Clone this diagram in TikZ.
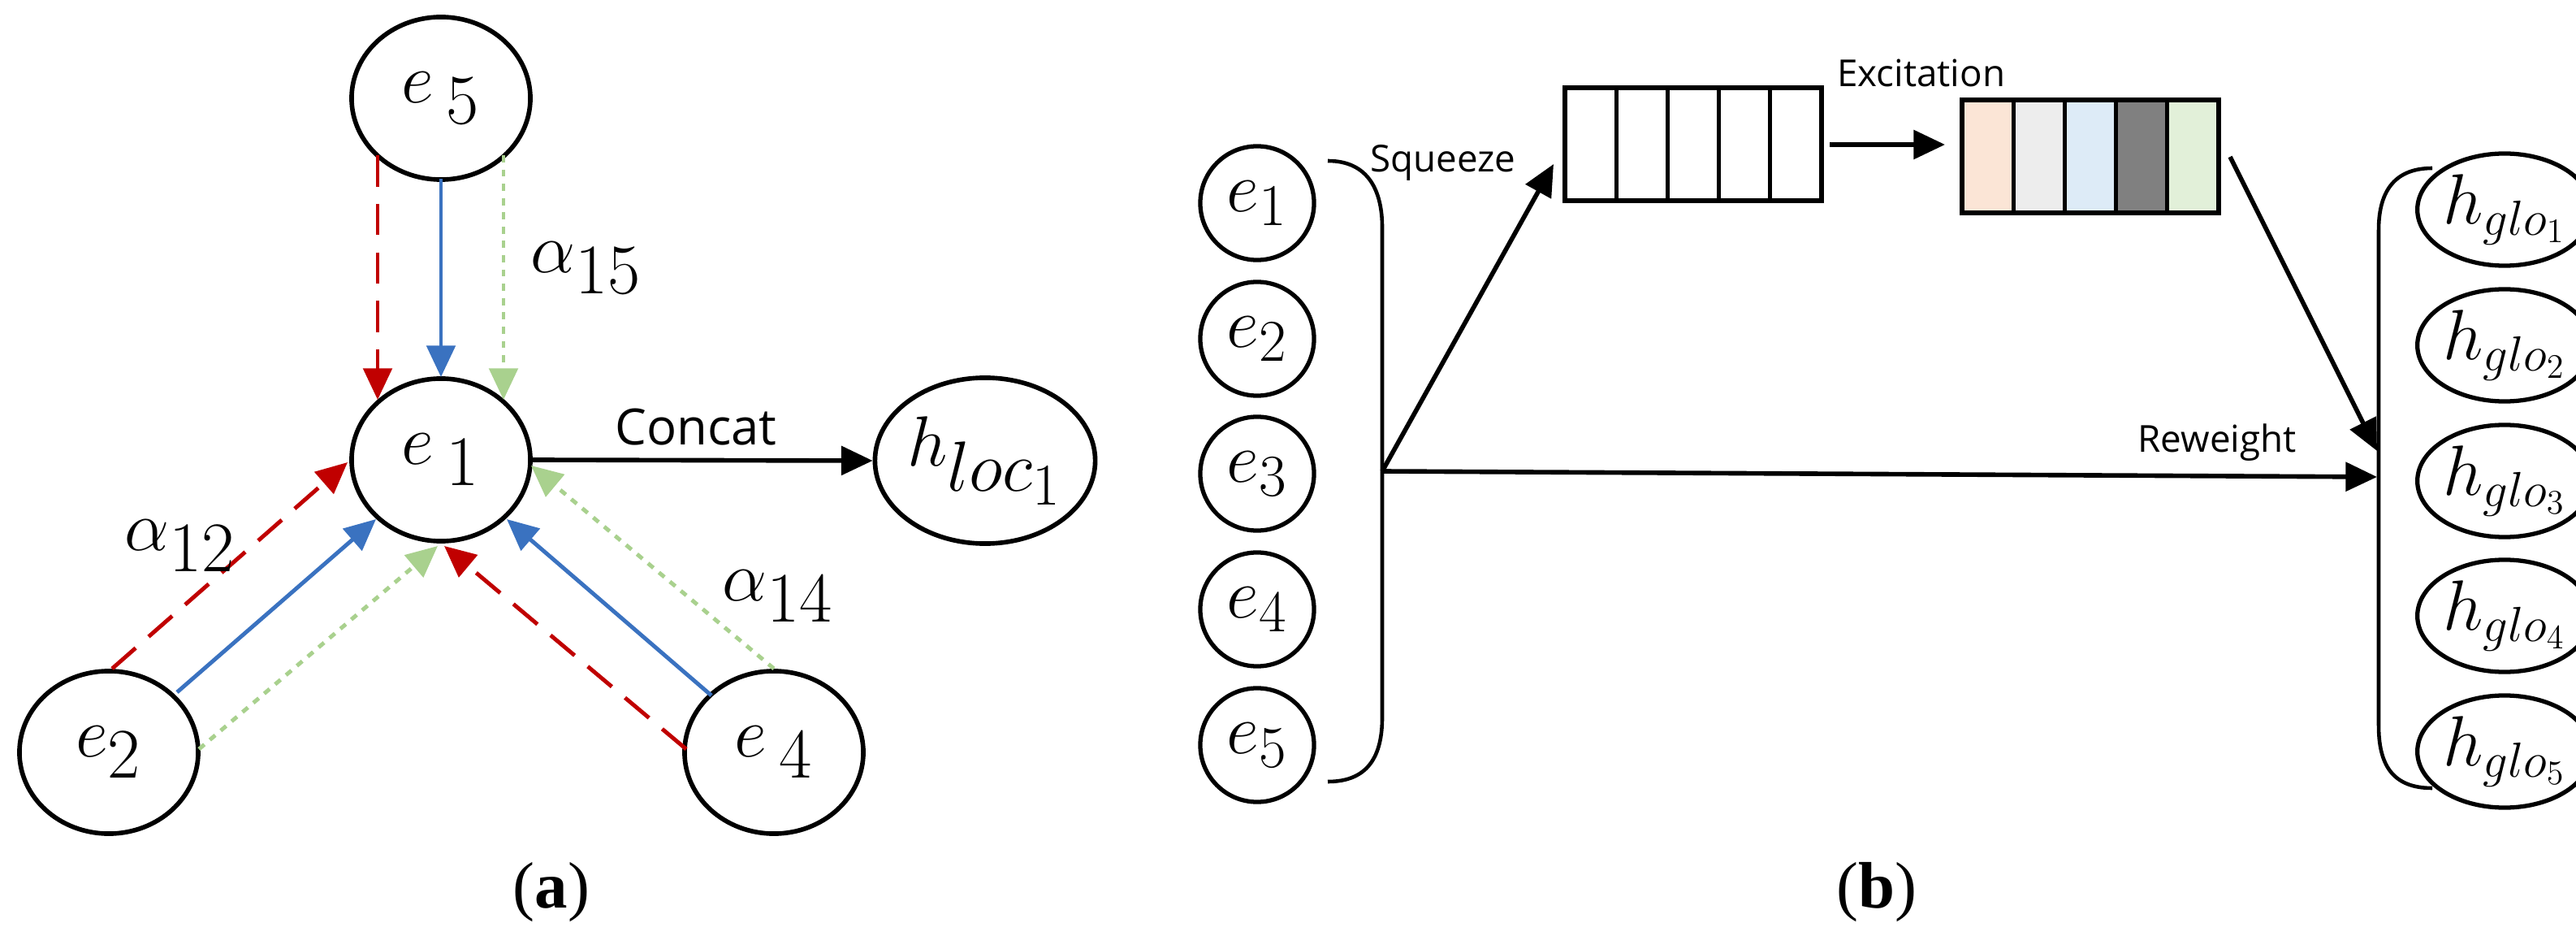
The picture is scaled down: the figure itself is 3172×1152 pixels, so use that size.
\documentclass[tikz,border=0pt]{standalone}
\usepackage{fontspec}
\setmainfont{Liberation Serif}
\newfontfamily\lbl{Open Sans}
\usetikzlibrary{shapes.geometric,arrows.meta}
\definecolor{cred}{HTML}{C00000}
\definecolor{cblue}{HTML}{3A72C0}
\definecolor{cgreen}{HTML}{A9D18E}
\definecolor{f1}{HTML}{FBE5D6}
\definecolor{f2}{HTML}{EDEDED}
\definecolor{f3}{HTML}{DDEBF7}
\definecolor{f4}{HTML}{808080}
\definecolor{f5}{HTML}{E2F0D9}
\begin{document}
\begin{tikzpicture}[x=0.01cm,y=-0.01cm,
  bignode/.style={ellipse,draw,line width=1.6pt,minimum width=2.2cm,minimum height=2.0cm,inner sep=0pt,font=\fontsize{50}{56}\selectfont},
  smallnode/.style={ellipse,draw,line width=1.5pt,minimum width=1.4cm,minimum height=1.4cm,inner sep=0pt,font=\fontsize{30}{34}\selectfont},
  hnode/.style={ellipse,draw,line width=1.5pt,minimum width=1.38cm,minimum height=1.38cm,inner sep=0pt,font=\fontsize{26}{30}\selectfont},
  tip/.style={-{Triangle[length=11pt,width=10pt]}},
  redd/.style={tip,cred,line width=1.4pt,dash pattern=on 11pt off 6pt},
  blu/.style={tip,cblue,line width=1.4pt},
  grn/.style={tip,cgreen,line width=1.4pt,dash pattern=on 2.5pt off 2.5pt},
  blk/.style={black,line width=1.6pt},
  cell/.style={draw,line width=1.5pt,minimum width=0.632cm,minimum height=1.39cm,inner sep=0pt},
  sans/.style={font=\lbl\fontsize{13}{15}\selectfont},
  alab/.style={font=\fontsize{42}{46}\selectfont}]
\useasboundingbox (0,0) rectangle (3172,1152);
% ---------- (a)
\node[bignode] (e5) at (543,121) {$e_{\,5}$};
\node[bignode] (e1) at (543,566) {$e_{\,1}$};
\node[bignode] (e2) at (134,926) {$e_{2}$};
\node[bignode] (e4) at (953,926) {$e_{\,4}$};
\node[bignode,minimum width=2.24cm,minimum height=2.04cm,font=\fontsize{44}{50}\selectfont] (hl) at (1213,567) {$h_{loc_1}$};
% endpoints
\coordinate (r5s) at (465,191); \coordinate (r5e) at (465,492);
\coordinate (b5s) at (543,220); \coordinate (b5e) at (543,464);
\coordinate (g5s) at (620,191); \coordinate (g5e) at (620,492);
\coordinate (r2s) at (138,823); \coordinate (r2e) at (428,569);
\coordinate (b2s) at (218,852); \coordinate (b2e) at (463,639);
\coordinate (g2s) at (245,922); \coordinate (g2e) at (539,672);
\coordinate (r4s) at (845,922); \coordinate (r4e) at (547,672);
\coordinate (b4s) at (876,856); \coordinate (b4e) at (624,639);
\coordinate (g4s) at (953,823); \coordinate (g4e) at (654,573);
\draw[redd] (r5s) -- (r5e);
\draw[blu] (b5s) -- (b5e);
\draw[grn] (g5s) -- (g5e);
\draw[redd] (r2s) -- (r2e);
\draw[blu] (b2s) -- (b2e);
\draw[grn] (g2s) -- (g2e);
\draw[redd] (r4s) -- (r4e);
\draw[blu] (b4s) -- (b4e);
\draw[grn] (g4s) -- (g4e);
\draw[blk,tip] (e1.east) -- (hl.west) node[pos=0.48,above=1pt,font=\lbl\fontsize{17.5}{20}\selectfont] {Concat};
\node[alab] (a15) at (722,330) {$\alpha_{15}$};
\node[alab] (a12) at (222,672) {$\alpha_{12}$};
\node[alab] (a14) at (958,734) {$\alpha_{14}$};
\node[font=\fontsize{23}{27}\selectfont] (la) at (679,1098) {(\textbf{a})};
% ---------- (b)
\foreach \i/\y in {1/250,2/417,3/583,4/750,5/917}{
  \node[smallnode] (b\i) at (1548,\y) {$e_{\i}$};
}
\foreach \i/\y in {1/258,2/425,3/592,4/758,5/925}{
  \node[hnode] (g\i) at (3084,\y) {$h_{glo_{\i}}$};
}
\draw[blk,line width=1.3pt] (1635,198) .. controls (1685,198) and (1702,235) .. (1702,280) -- (1702,883) .. controls (1702,930) and (1685,962) .. (1635,962);
\draw[blk,line width=1.3pt] (2995,207) .. controls (2945,207) and (2929,240) .. (2929,283) -- (2929,893) .. controls (2929,940) and (2945,970) .. (2995,970);
\foreach \i in {1,...,5}{
  \node[cell] (s\i) at ({1927+63.2*(\i-0.5)},177.5) {};
}
\foreach \i/\c in {1/f1,2/f2,3/f3,4/f4,5/f5}{
  \node[cell,fill=\c] (x\i) at ({2416+63.2*(\i-0.5)},192.5) {};
}
\coordinate (br) at (1702,580);
\coordinate (sq) at (1913,202);
\coordinate (ex1) at (2253,178);
\coordinate (ex2) at (2395,178);
\coordinate (d1) at (2746,193);
\coordinate (d2) at (2927,555);
\coordinate (rw) at (2927,587);
\draw[blk,tip] (br) -- (sq);
\draw[blk,tip] (ex1) -- (ex2);
\draw[blk,tip] (d1) -- (d2);
\draw[blk,tip] (br) -- (rw);
\node[sans] (tsq) at (1777,200) {Squeeze};
\node[sans,anchor=base west] (tex) at (2250,107) {Excitation};
\node[sans,anchor=base east] (trw) at (2840,557) {Reweight};
\node[font=\fontsize{23}{27}\selectfont] (lb) at (2311,1098) {(\textbf{b})};
\end{tikzpicture}
\end{document}
